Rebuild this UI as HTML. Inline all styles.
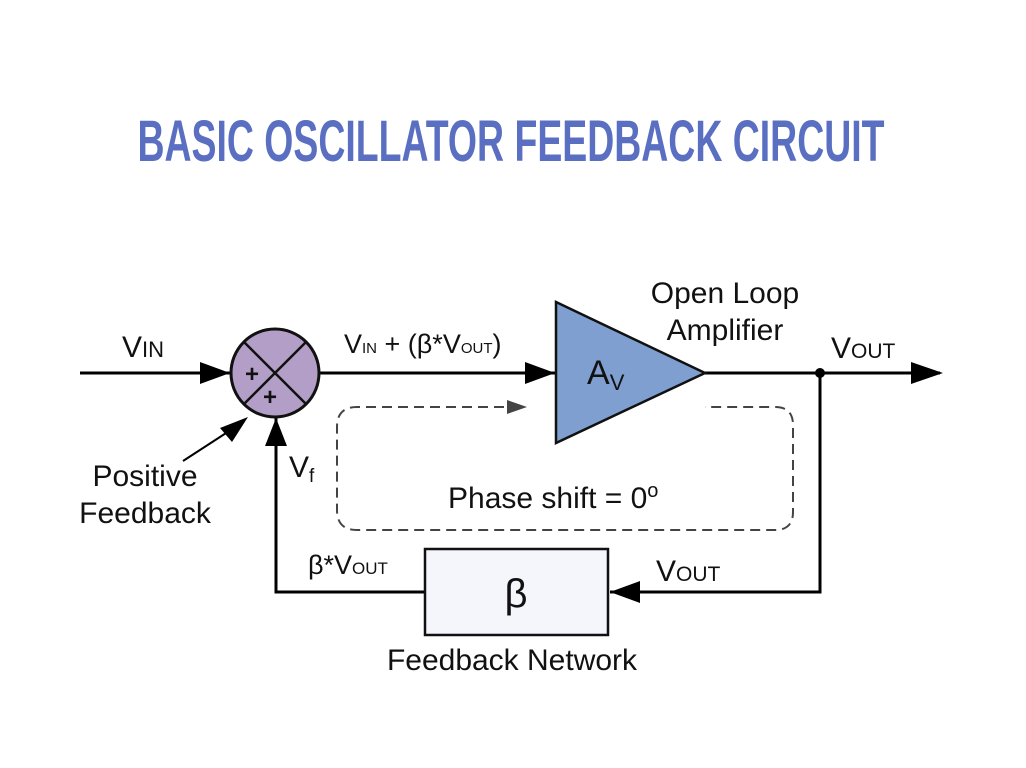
<!DOCTYPE html>
<html><head><style>
body{margin:0;background:#fff;width:1026px;height:768px;overflow:hidden}
svg{display:block}
text{font-family:"Liberation Sans",Arial,sans-serif;fill:#111}
</style></head><body>
<svg width="1026" height="768" viewBox="0 0 1026 768">
<text x="511" y="161" text-anchor="middle" font-size="58" font-weight="bold" style="font-family:'Liberation Sans Narrow','Liberation Sans',sans-serif;fill:#5a6fc2" transform="translate(511 0) scale(0.9 1) translate(-511 0)" textLength="830" lengthAdjust="spacingAndGlyphs">BASIC OSCILLATOR FEEDBACK CIRCUIT</text>
<g stroke="#000" stroke-width="3" fill="none">
<path d="M80 373 H230" />
<path d="M320 373 H555" />
<path d="M705 373 H940" />
<path d="M820 373 V592 H610" />
<path d="M425 592 H276 V418" />
<path d="M183 461 L240 424" stroke-width="2"/>
</g>
<g fill="#000">
<path d="M230 373 L200 362 L200 384z"/>
<path d="M555 373 L525 362 L525 384z"/>
<path d="M943 373 L911 362 L911 384z"/>
<path d="M610 592 L640 581 L640 603z"/>
<path d="M276 418 L265 446 L287 446z"/>
<path d="M248 417 L220 428 L232 442z"/>
<circle cx="820" cy="373" r="5"/>
</g>
<circle cx="275" cy="373" r="44" fill="#b39ec8" stroke="#111" stroke-width="3"/>
<path d="M244 342 L306 404 M306 342 L244 404" stroke="#111" stroke-width="2.5"/>
<text x="245" y="382" font-size="24" font-weight="bold">+</text>
<text x="263" y="405" font-size="24" font-weight="bold">+</text>
<polygon points="556,302 705,373 556,443" fill="#7f9fd1" stroke="#111" stroke-width="2.5"/>
<text x="587" y="384" font-size="34" fill="#222">A<tspan font-size="22" dy="6">V</tspan></text>
<rect x="425" y="549" width="183" height="86" fill="#f4f6fc" stroke="#111" stroke-width="2.5"/>
<text x="516" y="607" font-size="40" text-anchor="middle">β</text>
<g stroke="#444" stroke-width="2" fill="none" stroke-dasharray="10 6">
<path d="M520 407 H357 Q337 407 337 427 V510 Q337 530 357 530 H775 Q793 530 793 512 V425 Q793 407 775 407 H705"/>
</g>
<path d="M527 407 L507 400 L507 414z" fill="#444"/>
<text x="122" y="357" font-size="30">V<tspan font-size="22">IN</tspan></text>
<text x="344" y="353" font-size="27">V<tspan font-size="15">IN</tspan> + (β*V<tspan font-size="15">OUT</tspan>)</text>
<text x="725" y="303" font-size="30" text-anchor="middle">Open Loop</text>
<text x="725" y="340" font-size="30" text-anchor="middle">Amplifier</text>
<text x="831" y="358" font-size="30">V<tspan font-size="21">OUT</tspan></text>
<text x="145" y="486" font-size="30" text-anchor="middle">Positive</text>
<text x="145" y="523" font-size="30" text-anchor="middle">Feedback</text>
<text x="289" y="477" font-size="30">V<tspan font-size="19" dy="5">f</tspan></text>
<text x="448" y="508" font-size="30">Phase shift = 0<tspan font-size="20" dy="-11">o</tspan></text>
<text x="308" y="574" font-size="27">β*V<tspan font-size="17">OUT</tspan></text>
<text x="656" y="581" font-size="30">V<tspan font-size="21">OUT</tspan></text>
<text x="512" y="670" font-size="30" text-anchor="middle">Feedback Network</text>
</svg>
</body></html>
